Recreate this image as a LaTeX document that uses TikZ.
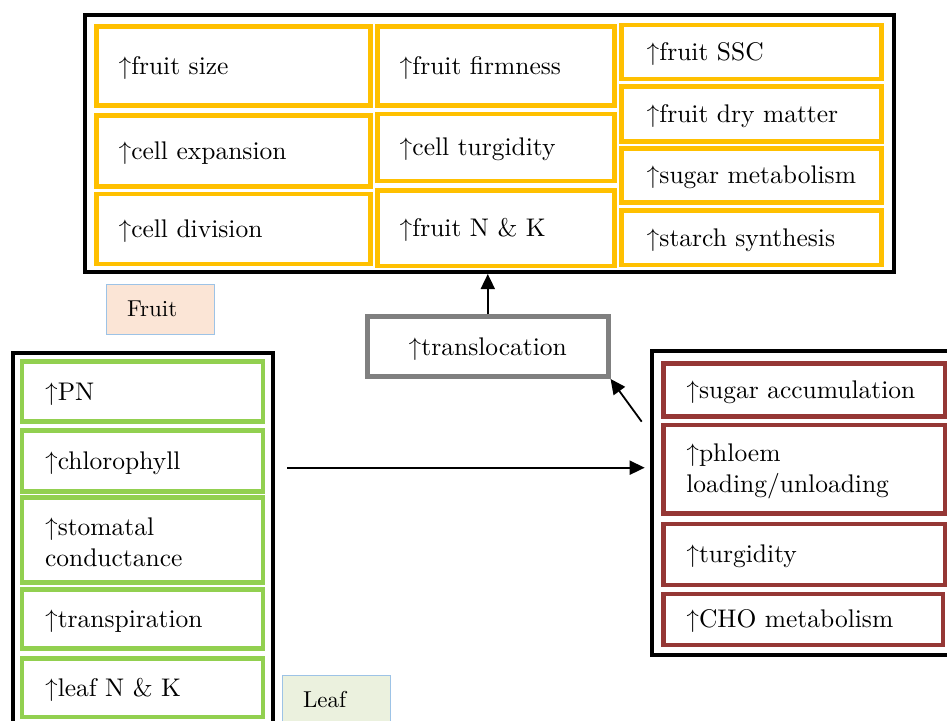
\documentclass[tikz,border=0pt]{standalone}
\usepackage{fontspec}
\setmainfont{lmroman10-regular.otf}
\usetikzlibrary{arrows.meta}
\definecolor{ylw}{HTML}{FFC000}
\definecolor{grn}{HTML}{92D050}
\definecolor{rd}{HTML}{953735}
\definecolor{gry}{HTML}{808080}
\definecolor{peach}{HTML}{FBE5D6}
\definecolor{sage}{HTML}{EBF1DE}
\definecolor{lblue}{HTML}{9DC3E6}
\newcommand\bx[8][22]{%
  \pgfmathsetmacro\mybw{#6-#4}%
  \pgfmathsetmacro\mybh{#7-#5}%
  \pgfmathsetmacro\mytw{#6-#4-2*#1}%
  \pgfmathsetmacro\mycx{(#4+#6)/2}%
  \pgfmathsetmacro\mycy{(#5+#7)/2}%
  \node[#3, minimum width=\mybw pt, minimum height=\mybh pt, text width=\mytw pt] (#2) at (\mycx,\mycy) {#8};}
\tikzset{
  cell/.style={draw, rectangle, line width=4.5pt, fill=white, inner xsep=0pt, inner ysep=0pt, align=left, font=\fontsize{25.5}{31.5}\selectfont, execute at begin node={\rule{0pt}{22pt}}},
  ycell/.style={cell, draw=ylw},
  gcell/.style={cell, draw=grn},
  rcell/.style={cell, draw=rd},
  tcell/.style={cell, draw=gry, align=center},
  outer/.style={draw=black, line width=4pt, rectangle, inner sep=0pt},
  tag/.style={draw=lblue, line width=1pt, rectangle, inner sep=0pt, align=left, font=\fontsize{23}{28}\selectfont},
  arr/.style={-{Triangle[length=15pt,width=14pt]}, line width=1.8pt}
}
\begin{document}
\begin{tikzpicture}[x=1pt, y=-1pt]
\useasboundingbox (0,0) rectangle (947,720);
\clip (0,0) rectangle (947,720);
\fill[white] (0,0) rectangle (947,720);
% outer boxes
\bx{fruit}{outer}{85}{15}{894}{272}{}
\bx{leaf}{outer}{12.7}{352.7}{272.7}{745}{}
\bx{rbox}{outer}{651.7}{350.7}{965}{655}{}
% fruit cells
\bx{c11}{ycell}{96.5}{26.7}{370.7}{105.3}{↑fruit size}
\bx{c12}{ycell}{96.5}{115.3}{370.7}{186.3}{↑cell expansion}
\bx{c13}{ycell}{96.5}{194}{370.7}{264}{↑cell division}
\bx{c21}{ycell}{377.7}{26.7}{614.3}{105.3}{↑fruit firmness}
\bx{c22}{ycell}{377.7}{114}{614.3}{181}{↑cell turgidity}
\bx{c23}{ycell}{377.7}{190.7}{614.3}{266}{↑fruit N \& K}
\bx[25]{c31}{ycell}{621.7}{25}{881.3}{79}{↑fruit SSC}
\bx[25]{c32}{ycell}{621.7}{86.7}{881.3}{141.7}{↑fruit dry matter}
\bx[25]{c33}{ycell}{621.7}{148.3}{881.3}{202.3}{\mbox{↑sugar metabolism}}
\bx[25]{c34}{ycell}{621.7}{210.3}{881.3}{265}{↑starch synthesis}
% leaf cells
\bx[23]{l1}{gcell}{22}{361.7}{263}{421.7}{↑PN}
\bx[23]{l2}{gcell}{22}{430.7}{263}{491.7}{↑chlorophyll}
\bx[23]{l3}{gcell}{22}{497.3}{263}{582.7}{↑stomatal\\conductance}
\bx[23]{l4}{gcell}{22}{589.3}{263}{648.3}{↑transpiration}
\bx[23]{l5}{gcell}{22}{658.3}{263}{717}{↑leaf N \& K}
% right cells
\bx[23]{r1}{rcell}{663.3}{363.3}{945}{416.7}{↑sugar accumulation}
\bx[23]{r2}{rcell}{663.3}{425}{945}{513.3}{↑phloem\\loading/unloading}
\bx[23]{r3}{rcell}{663.3}{524}{945}{585}{↑turgidity}
\bx[23]{r4}{rcell}{663.3}{594}{943}{645}{↑CHO metabolism}
% translocation
\bx[10]{trans}{tcell}{367.3}{316.7}{608.3}{376.7}{↑translocation}
% tags
\bx[21]{fruittag}{tag, fill=peach}{106}{284}{214}{334}{Fruit}
\bx[21]{leaftag}{tag, fill=sage}{282}{675}{390}{725}{Leaf}
% arrows
\coordinate (d0) at (641.7,421.7);
\coordinate (h0) at (287,467.7);
\draw[arr] (trans.north) -- (trans.north |- fruit.south);
\draw[arr] (d0) -- (trans.south east);
\draw[arr, shorten >=5pt] (h0) -- (h0 -| rbox.west);
\end{tikzpicture}
\end{document}
